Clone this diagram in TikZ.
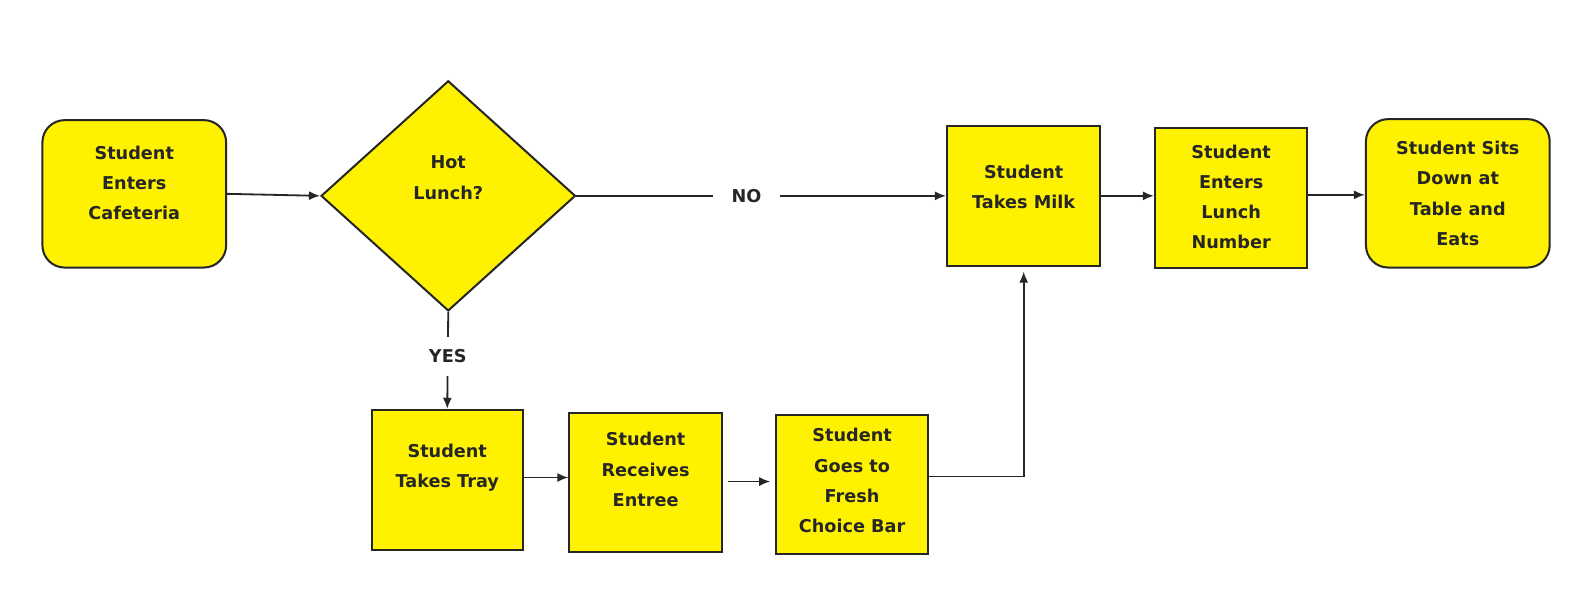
\documentclass[tikz,border=0pt]{standalone}
\usepackage{fontspec}
\setmainfont{DejaVu Sans}
\usetikzlibrary{shapes.geometric,arrows.meta}
\begin{document}
\begin{tikzpicture}[x=1pt,y=-1pt,
  shp/.style={draw=black!85,line width=2pt,fill=yellow,inner sep=0pt},
  procbox/.style={shp,rectangle},
  termbox/.style={shp,rectangle,rounded corners=22pt},
  txt/.style={align=center,font=\bfseries\fontsize{17.5}{30}\selectfont,text=black!85,inner sep=0pt},
  lbl/.style={font=\bfseries\fontsize{17.5}{22}\selectfont,text=black!85,fill=white,inner xsep=18pt,inner ysep=13pt},
  conn/.style={draw=black!85,line width=1.8pt,-{Latex[length=11pt,width=9pt]}}]
\fill[white] (0,0) rectangle (1568,607);
\useasboundingbox (0,0) rectangle (1568,607);
% shapes
\node[termbox,minimum width=182pt,minimum height=146pt] (start) at (133,192) {};
\node[shp,diamond,minimum width=252pt,minimum height=228pt] (dec) at (444,194) {};
\node[procbox,minimum width=152pt,minimum height=138pt] (milk) at (1014,194) {};
\node[procbox,minimum width=151pt,minimum height=138pt] (num) at (1219.5,196) {};
\node[termbox,minimum width=182pt,minimum height=147pt] (sits) at (1444,191.5) {};
\node[procbox,minimum width=150pt,minimum height=139pt] (tray) at (443,475.5) {};
\node[procbox,minimum width=151pt,minimum height=138pt] (entree) at (639.5,478) {};
\node[procbox,minimum width=150pt,minimum height=138pt] (fresh) at (844,480) {};
% texts
\node[txt,yshift=11pt] (tstart) at (start) {Student\\Enters\\Cafeteria};
\node[txt,yshift=18pt] (tdec) at (dec) {Hot\\Lunch?};
\node[txt,yshift=9pt] (tmilk) at (milk) {Student\\Takes Milk};
\node[txt,yshift=1pt] (tnum) at (num) {Student\\Enters\\Lunch\\Number};
\node[txt] (tsits) at (sits) {Student Sits\\Down at\\Table and\\Eats};
\node[txt,yshift=12pt] (ttray) at (tray) {Student\\Takes Tray};
\node[txt,yshift=13pt] (tentree) at (entree) {Student\\Receives\\Entree};
\node[txt,yshift=4pt] (tfresh) at (fresh) {Student\\Goes to\\Fresh\\Choice Bar};
% connectors
\coordinate (numout) at ([yshift=3pt]num.east);
\coordinate (freshout) at ([yshift=8pt]fresh.east);
\coordinate (trayout) at ([yshift=2.5pt]tray.east);
\coordinate (entreeout) at ([yshift=1pt]entree.east);
\draw[conn] (start.east) -- (dec.west);
\draw[conn] (dec.east) -- node[lbl,pos=0.46] (no) {NO} (milk.west);
\draw[conn] (dec.south) -- node[lbl,pos=0.46,inner xsep=4pt] (yes) {YES} (tray.north);
\draw[conn] (trayout) -- (entree.west |- trayout);
\draw[conn,shorten <=5pt,shorten >=5pt] (entreeout) -- (fresh.west |- entreeout);
\draw[conn,shorten >=5pt] (freshout) -| (milk.south);
\draw[conn] (milk.east) -- (num.west |- milk.east);
\draw[conn] (numout) -- (sits.west |- numout);
\end{tikzpicture}
\end{document}
